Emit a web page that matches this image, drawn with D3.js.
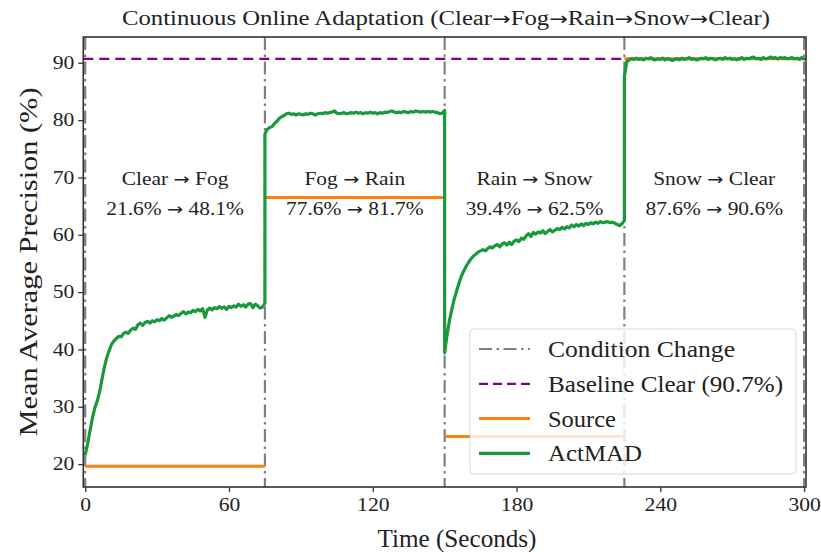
<!DOCTYPE html>
<html>
<head>
<meta charset="utf-8">
<script src="https://cdn.jsdelivr.net/npm/d3@7"></script>
<style>
  html, body { margin: 0; padding: 0; background: #fff; }
  svg { display: block; }
  text { font-family: "Liberation Serif", "Times New Roman", serif; fill: #222; }
  tspan.arrow { font-family: "DejaVu Sans", sans-serif; }
</style>
</head>
<body>
<svg id="chart" width="821" height="552"></svg>
<script>
// ---- data ----
const conditionChanges = [0, 75, 150, 225, 300];
const baselineClear = 90.7;
const segments = [
  { from: "Clear", to: "Fog",   start: 0,   end: 75 },
  { from: "Fog",   to: "Rain",  start: 75,  end: 150 },
  { from: "Rain",  to: "Snow",  start: 150, end: 225 },
  { from: "Snow",  to: "Clear", start: 225, end: 300 }
];
const sourceValues = [19.6, 66.5, 24.8, 90.7];
const segmentSummary = [[21.6, 48.1], [77.6, 81.7], [39.4, 62.5], [87.6, 90.6]];

// ActMAD mAP, one reading per second within each segment (t = start .. end)
const actmadClearFog = [
  21.6, 23.5, 25.8, 28.0, 29.8, 31.0, 32.6, 34.8, 36.9, 38.6,
  39.8, 40.9, 41.5, 41.9, 42.3, 42.2, 42.8, 43.0, 42.8, 43.4,
  43.7, 43.5, 44.3, 44.6, 44.2, 44.7, 44.9, 44.6, 45.0, 44.8,
  45.2, 45.0, 45.4, 45.1, 45.5, 45.9, 45.6, 45.8, 46.1, 45.9,
  46.3, 46.6, 46.2, 46.5, 46.4, 46.8, 46.6, 47.0, 46.7, 47.1,
  45.6, 46.9, 47.2, 46.9, 47.3, 47.1, 47.5, 47.2, 47.4, 47.0,
  47.5, 47.3, 47.6, 47.4, 47.9, 47.5, 47.8, 47.4, 47.9, 48.0,
  47.3, 47.9, 47.6, 47.2, 47.4, 48.1
];
const actmadFogRain = [
  77.6, 78.4, 78.7, 78.9, 79.4, 79.8, 80.3, 80.6, 80.8, 81.1,
  81.2, 81.0, 81.1, 80.9, 81.1, 81.0, 80.9, 81.1, 81.0, 81.2,
  81.1, 80.9, 81.1, 81.2, 81.1, 81.3, 81.2, 81.3, 81.4, 81.6,
  81.2, 81.1, 81.2, 81.3, 81.1, 81.2, 81.3, 81.2, 81.4, 81.2,
  81.3, 81.1, 81.3, 81.2, 81.4, 81.2, 81.3, 81.1, 81.3, 81.2,
  81.4, 81.3, 81.5, 81.6, 81.4, 81.3, 81.4, 81.3, 81.5, 81.4,
  81.3, 81.5, 81.4, 81.6, 81.5, 81.4, 81.5, 81.4, 81.5, 81.4,
  81.5, 81.4, 81.3, 81.1, 81.2, 81.7
];
const actmadRainSnow = [
  39.4, 42.5, 45.0, 47.0, 48.8, 50.2, 51.6, 52.8, 53.7, 54.5,
  55.2, 55.8, 56.3, 56.6, 57.0, 57.2, 57.4, 57.2, 57.6, 57.9,
  57.7, 58.1, 58.3, 57.9, 58.4, 58.6, 58.2, 58.7, 58.3, 58.9,
  59.1, 58.8, 59.4, 59.2, 59.8, 60.2, 59.7, 60.4, 60.1, 60.5,
  60.3, 60.7, 60.2, 60.6, 60.9, 60.5, 60.8, 61.1, 60.9, 61.3,
  61.0, 61.4, 61.2, 61.7, 61.4, 61.8, 61.5, 61.9, 61.6, 62.0,
  61.8, 62.1, 61.9, 62.2, 62.0, 62.3, 62.1, 62.2, 62.3, 62.1,
  62.2, 62.0, 61.8, 61.6, 61.9, 62.5
];
const actmadSnowClear = [
  87.6, 90.2, 90.5, 90.7, 90.6, 90.8, 90.6, 90.7, 90.5, 90.8,
  90.7, 90.9, 90.6, 90.5, 90.7, 90.6, 90.8, 90.5, 90.7, 90.6,
  90.4, 90.6, 90.7, 90.5, 90.8, 90.6, 90.7, 90.9, 90.6, 90.7,
  90.5, 90.6, 90.8, 90.7, 90.9, 90.6, 90.8, 90.7, 90.5, 90.7,
  90.8, 90.6, 90.9, 90.7, 90.8, 90.6, 90.7, 90.5, 90.7, 90.9,
  90.6, 90.8, 90.7, 90.9, 91.0, 90.7, 90.8, 90.6, 90.9, 90.7,
  90.8, 91.0, 90.8, 90.9, 90.7, 90.9, 90.8, 90.9, 90.7, 90.8,
  90.9, 90.7, 90.8, 90.6, 90.9, 90.6
];
const actmadSegments = [actmadClearFog, actmadFogRain, actmadRainSnow, actmadSnowClear];

const xTicks = [0, 60, 120, 180, 240, 300];
const yTicks = [20, 30, 40, 50, 60, 70, 80, 90];

// ---- layout ----
const svg = d3.select("#chart");
const plot = { left: 83.3, right: 806, top: 37, bottom: 487 };

const x = d3.scaleLinear().domain([-0.8, 300.8]).range([plot.left, plot.right]);
const y = d3.scaleLinear().domain([16, 94.5]).range([plot.bottom, plot.top]);

const colors = {
  change: "#808080",
  baseline: "#800080",
  source: "#ff7f0e",
  actmad: "#18993a",
  axis: "#333"
};

// widen serif text by a factor (keeps the anchor point)
function widen(sel, factor) {
  sel.each(function () {
    const w = this.getComputedTextLength();
    d3.select(this).attr("textLength", w * factor).attr("lengthAdjust", "spacingAndGlyphs");
  });
}
// set text to an exact advance width
function fitWidth(sel, w) {
  sel.attr("textLength", w).attr("lengthAdjust", "spacingAndGlyphs");
}
// write a string into a text element, setting arrows in a font with a long arrow glyph
function setArrowText(sel, str) {
  str.split("\u2192").forEach((part, i) => {
    if (i > 0) sel.append("tspan").attr("class", "arrow").attr("font-size", "0.9em").text("\u2192");
    if (part) sel.append("tspan").text(part);
  });
  return sel;
}

const g = svg.append("g");
g.append("defs").append("clipPath").attr("id", "clip")
  .append("rect").attr("x", plot.left).attr("y", plot.top)
  .attr("width", plot.right - plot.left).attr("height", plot.bottom - plot.top);

const layer = g.append("g").attr("clip-path", "url(#clip)");

// condition change markers
layer.selectAll("line.change").data(conditionChanges).join("line")
  .attr("class", "change")
  .attr("x1", d => x(d)).attr("x2", d => x(d))
  .attr("y1", plot.top).attr("y2", plot.bottom)
  .attr("stroke", colors.change).attr("stroke-width", 2.2)
  .attr("stroke-dasharray", "13,4.5,2.5,4.5");

// baseline on clear weather
layer.append("line")
  .attr("x1", x(-0.8)).attr("x2", x(300.8))
  .attr("y1", y(baselineClear)).attr("y2", y(baselineClear))
  .attr("stroke", colors.baseline).attr("stroke-width", 2.2)
  .attr("stroke-dasharray", "10,6");

// source model: one flat level per segment
layer.selectAll("line.source").data(segments).join("line")
  .attr("class", "source")
  .attr("x1", d => x(d.start)).attr("x2", d => x(d.end))
  .attr("y1", (d, i) => y(sourceValues[i])).attr("y2", (d, i) => y(sourceValues[i]))
  .attr("stroke", colors.source).attr("stroke-width", 3);

// ActMAD online adaptation
const line = d3.line().x(d => x(d[0])).y(d => y(d[1]));
const actPts = [];
segments.forEach((s, i) => {
  actmadSegments[i].forEach((v, k) => actPts.push([s.start + k, v]));
});
layer.append("path")
  .attr("d", line(actPts))
  .attr("fill", "none").attr("stroke", colors.actmad).attr("stroke-width", 3.2)
  .attr("stroke-linejoin", "round");

// segment annotations
const ann = g.append("g");
segments.forEach((s, i) => {
  const cx = x((s.start + s.end) / 2);
  const t1 = ann.append("text").attr("x", cx).attr("y", 185).attr("text-anchor", "middle")
    .attr("font-size", 18);
  setArrowText(t1, `${s.from} \u2192 ${s.to}`);
  const t2 = ann.append("text").attr("x", cx).attr("y", 215).attr("text-anchor", "middle")
    .attr("font-size", 18);
  setArrowText(t2, `${segmentSummary[i][0].toFixed(1)}% \u2192 ${segmentSummary[i][1].toFixed(1)}%`);
});
widen(ann.selectAll("text"), 1.19);

// axes
const xAxis = g.append("g").attr("transform", `translate(0,${plot.bottom})`)
  .call(d3.axisBottom(x).tickValues(xTicks).tickSize(5).tickPadding(6).tickFormat(d3.format("d")));
const yAxis = g.append("g").attr("transform", `translate(${plot.left},0)`)
  .call(d3.axisLeft(y).tickValues(yTicks).tickSize(5).tickPadding(4).tickFormat(d3.format("d")));
[xAxis, yAxis].forEach(a => {
  a.select(".domain").remove();
  a.selectAll(".tick line").attr("stroke", colors.axis).attr("stroke-width", 1.3);
  a.selectAll(".tick text").attr("font-size", 18)
    .attr("font-family", "'Liberation Serif', serif").attr("fill", "#222");
  widen(a.selectAll(".tick text"), 1.2);
});

// frame
g.append("rect")
  .attr("x", plot.left).attr("y", plot.top)
  .attr("width", plot.right - plot.left).attr("height", plot.bottom - plot.top)
  .attr("fill", "none").attr("stroke", colors.axis).attr("stroke-width", 1.6);

// legend
const legendItems = [
  { label: "Condition Change", color: colors.change, dash: "13,4.5,2.5,4.5", w: 2.2, width: 187 },
  { label: "Baseline Clear (90.7%)", color: colors.baseline, dash: "9,5", w: 2.2, width: 235 },
  { label: "Source", color: colors.source, dash: null, w: 3, width: 68 },
  { label: "ActMAD", color: colors.actmad, dash: null, w: 3.2, width: 94 }
];
const lg = g.append("g");
lg.append("rect").attr("x", 470).attr("y", 329).attr("width", 326).attr("height", 145)
  .attr("rx", 4).attr("fill", "#fff").attr("fill-opacity", 0.8)
  .attr("stroke", "#d6d6d6").attr("stroke-width", 1);
legendItems.forEach((it, i) => {
  const cy = 349 + i * 34.8;
  lg.append("line").attr("x1", 479).attr("x2", 530).attr("y1", cy).attr("y2", cy)
    .attr("stroke", it.color).attr("stroke-width", it.w)
    .attr("stroke-dasharray", it.dash);
  lg.append("text").attr("x", 548).attr("y", cy + 8).attr("font-size", 23).text(it.label)
    .call(fitWidth, it.width);
});

// title and axis labels
const title = g.append("text").attr("x", 446).attr("y", 25).attr("text-anchor", "middle")
  .attr("font-size", 20);
setArrowText(title, "Continuous Online Adaptation (Clear\u2192Fog\u2192Rain\u2192Snow\u2192Clear)");
fitWidth(title, 648);
const xLabel = g.append("text").attr("x", 457).attr("y", 547).attr("text-anchor", "middle")
  .attr("font-size", 25).text("Time (Seconds)");
fitWidth(xLabel, 159);
const yLabel = g.append("text").attr("transform", "translate(37,262) rotate(-90)")
  .attr("text-anchor", "middle").attr("font-size", 26)
  .text("Mean Average Precision (%)");
fitWidth(yLabel, 349);
</script>
</body>
</html>
